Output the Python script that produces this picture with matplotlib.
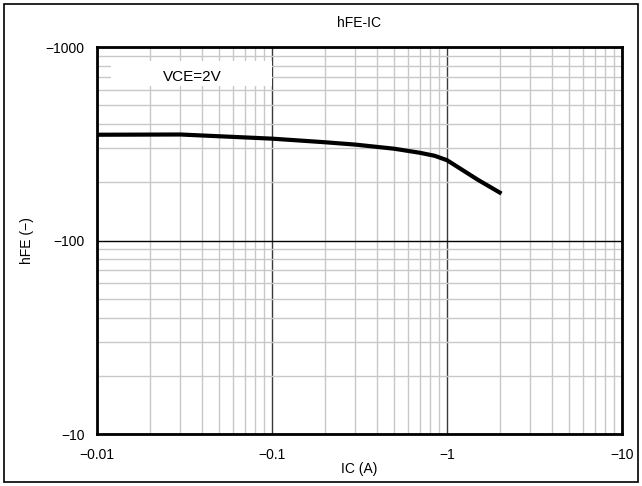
import numpy as np
import matplotlib
matplotlib.use('Agg')
import matplotlib.pyplot as plt
from matplotlib.ticker import FixedLocator, FuncFormatter, LogLocator, NullFormatter

plt.rcParams['font.family'] = ['Liberation Sans', 'DejaVu Sans']

# data
ic = [0.01, 0.03, 0.1, 0.2, 0.3, 0.5, 0.7, 0.85, 1.0, 1.15, 1.5, 2.0]
hfe = [352, 353, 336, 322, 313, 298, 284, 274, 260, 240, 206, 177]

x_ticks = [0.01, 0.1, 1, 10]
x_labels = ['\u22120.01', '\u22120.1', '\u22121', '\u221210']
y_ticks = [10, 100, 1000]
y_labels = ['\u221210', '\u2212100', '\u22121000']

fig = plt.figure(figsize=(6.42, 4.86), dpi=100)
ax = fig.add_axes([97/642, 1 - 434/486, 525/642, 387/486])

ax.set_xscale('log')
ax.set_yscale('log')
ax.set_xlim(0.01, 10)
ax.set_ylim(10, 1000)

ax.xaxis.set_major_locator(FixedLocator(x_ticks))
ax.xaxis.set_major_formatter(FuncFormatter(lambda v, p: x_labels[x_ticks.index(v)] if v in x_ticks else ''))
ax.yaxis.set_major_locator(FixedLocator(y_ticks))
ax.yaxis.set_major_formatter(FuncFormatter(lambda v, p: y_labels[y_ticks.index(v)] if v in y_ticks else ''))
ax.xaxis.set_minor_locator(LogLocator(base=10, subs=np.arange(2, 10)))
ax.yaxis.set_minor_locator(LogLocator(base=10, subs=np.arange(2, 10)))
ax.xaxis.set_minor_formatter(NullFormatter())
ax.yaxis.set_minor_formatter(NullFormatter())

ax.grid(which='minor', color='#c8c8c8', linewidth=1.0)
ax.grid(which='major', axis='x', color='#3a3a3a', linewidth=1.0)
ax.grid(which='major', axis='y', color='#000000', linewidth=1.0)
ax.set_axisbelow(True)
ax.tick_params(which='both', length=0, labelsize=10, colors='black')
ax.tick_params(axis='x', pad=10)
ax.tick_params(axis='y', pad=9)

for s in ax.spines.values():
    s.set_linewidth(2)
    s.set_color('black')

# label box covering the grid
ax.add_patch(plt.Rectangle((0.012, 630), 0.1 - 0.012, 850 - 630,
                           facecolor='white', edgecolor='none', zorder=2))
ax.text(0.035, 700, 'VCE=2V', fontsize=11, ha='center', va='center', zorder=3)

ax.plot(ic, hfe, color='black', linewidth=3, zorder=4, solid_joinstyle='round')

ax.set_xlabel('IC (A)', fontsize=10, labelpad=0)
ax.set_ylabel('hFE (\u2212)', fontsize=10, labelpad=8)
fig.text(0.5 * (97 + 622) / 642, 1 - 23/486, 'hFE-IC', ha='center', va='center', fontsize=10)

fig.patches.append(plt.Rectangle((4/642, 4/486), 634/642, 478/486, transform=fig.transFigure,
                                 fill=False, edgecolor='black', linewidth=1.2))

fig.savefig('out.png', dpi=100)
